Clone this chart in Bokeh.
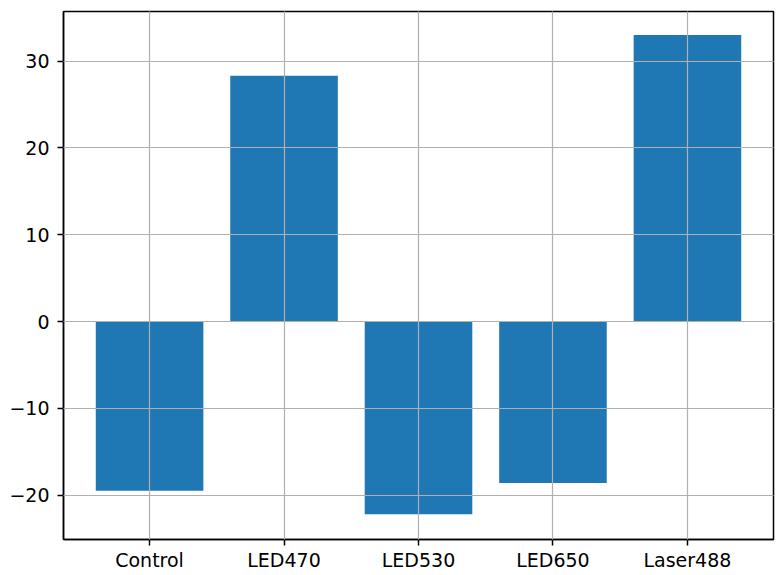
from bokeh.plotting import figure
from bokeh.models import Range1d, FixedTicker, CustomJSTickFormatter
from bokeh.embed import file_html
from bokeh.resources import INLINE

categories = ["Control", "LED470", "LED530", "LED650", "Laser488"]
values = [-19.5, 28.3, -22.2, -18.6, 33.0]
y_ticks = [-20, -10, 0, 10, 20, 30]

xs = list(range(len(categories)))

p = figure(width=775, height=573, output_backend="svg", toolbar_location=None,
           x_range=Range1d(-0.64, len(categories) - 1 + 0.64),
           y_range=Range1d(-25.1, 35.7),
           min_border_left=63, min_border_top=11, min_border_right=2, min_border_bottom=27)

p.vbar(x=xs, top=values, bottom=0, width=0.8, fill_color="#1f77b4", line_color=None)

p.xaxis.ticker = FixedTicker(ticks=xs)
p.xaxis.major_label_overrides = {i: c for i, c in zip(xs, categories)}
p.yaxis.ticker = FixedTicker(ticks=y_ticks)
p.yaxis.formatter = CustomJSTickFormatter(code="return tick < 0 ? '\u2212' + Math.abs(tick) : '' + tick;")

for ax in (p.xaxis, p.yaxis):
    ax.axis_line_color = "black"
    ax.axis_line_width = 1.5
    ax.major_tick_line_color = "black"
    ax.major_tick_line_width = 1.5
    ax.major_tick_out = 6
    ax.major_tick_in = 0
    ax.minor_tick_line_color = None
    ax.major_label_text_font = "DejaVu Sans"
    ax.major_label_text_font_size = "19px"
    ax.major_label_text_color = "black"
p.xaxis.major_label_standoff = 3
p.yaxis.major_label_standoff = 8

p.xgrid.ticker = FixedTicker(ticks=xs)
p.ygrid.ticker = FixedTicker(ticks=y_ticks)
for g in (p.xgrid, p.ygrid):
    g.grid_line_color = "#b0b0b0"
    g.grid_line_width = 1.2
    g.level = "overlay"

p.outline_line_color = "black"
p.outline_line_width = 1.5
p.outline_line_alpha = 1.0
p.background_fill_color = "white"
p.border_fill_color = "white"

open("out.html", "w").write(file_html(p, INLINE))
